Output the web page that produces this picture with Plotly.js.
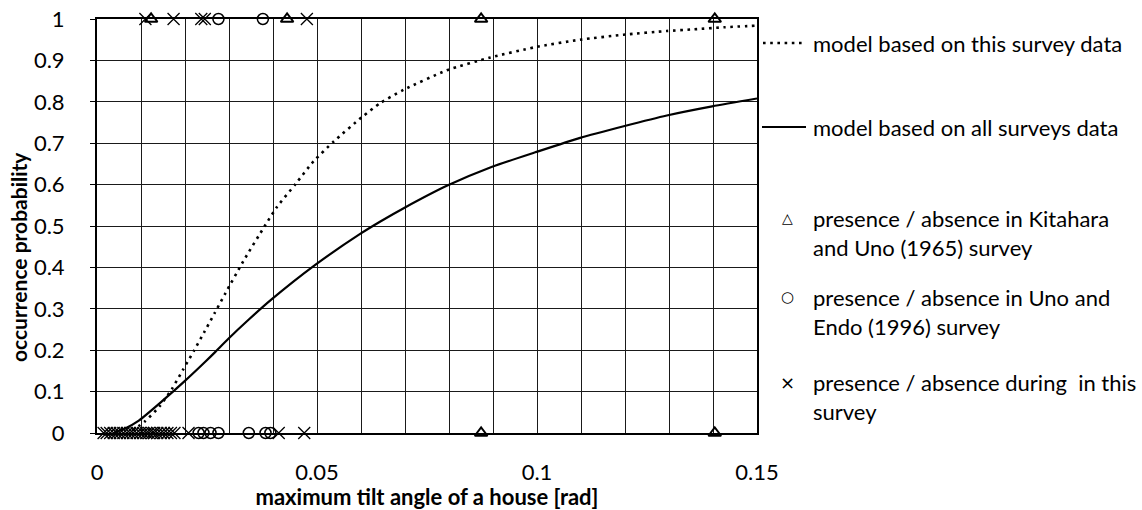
<!DOCTYPE html>
<html>
<head>
<meta charset="utf-8">
<script src="https://cdn.plot.ly/plotly-3.0.1.min.js"></script>
<style>
  html, body { margin: 0; padding: 0; background: #fff; }
  #chart { width: 1142px; height: 510px; }
</style>
</head>
<body>
<div id="chart"></div>
<script>
// Fitted model curves (probability vs. maximum tilt angle)
const modelThisX = [0.008, 0.0108, 0.0142, 0.017, 0.0195, 0.022, 0.0244, 0.0267, 0.0292, 0.0332, 0.0383, 0.0409, 0.0451, 0.0492, 0.0538, 0.0602, 0.0644, 0.0697, 0.0795, 0.0894, 0.0996, 0.1098, 0.1197, 0.1295, 0.1356, 0.1425, 0.15];
const modelThisY = [0.006, 0.027, 0.064, 0.106, 0.152, 0.198, 0.244, 0.289, 0.338, 0.414, 0.503, 0.546, 0.601, 0.656, 0.704, 0.763, 0.797, 0.829, 0.876, 0.907, 0.932, 0.950, 0.962, 0.971, 0.975, 0.980, 0.984];

const modelAllX = [0.004, 0.0064, 0.0095, 0.0148, 0.0198, 0.0246, 0.0269, 0.0298, 0.0345, 0.0396, 0.0496, 0.0598, 0.0644, 0.0697, 0.0795, 0.0898, 0.0996, 0.1098, 0.1197, 0.1295, 0.1398, 0.15];
const modelAllY = [0.001, 0.011, 0.030, 0.077, 0.124, 0.172, 0.196, 0.227, 0.274, 0.322, 0.406, 0.481, 0.511, 0.543, 0.597, 0.643, 0.678, 0.713, 0.741, 0.767, 0.789, 0.808];

// Kitahara and Uno (1965) survey: presence = 1, absence = 0
const kitaharaX = [0.0123, 0.0432, 0.0873, 0.1404, 0.0873, 0.1404];
const kitaharaY = [1, 1, 1, 1, 0, 0];

// Uno and Endo (1996) survey
const unoEndoX = [0.0276, 0.0377, 0.0231, 0.0242, 0.0258, 0.0276, 0.0345, 0.0383, 0.0394];
const unoEndoY = [1, 1, 0, 0, 0, 0, 0, 0, 0];

// This survey
const thisSurveyX = [0.011, 0.0174, 0.0237, 0.0245, 0.0477,
  0.0015, 0.0022, 0.003, 0.0038, 0.0045, 0.0052, 0.006, 0.0068, 0.0075, 0.0082, 0.009, 0.0098,
  0.0105, 0.0112, 0.0118, 0.0125, 0.013, 0.0137, 0.0145, 0.0152, 0.016, 0.0168, 0.0176,
  0.0208, 0.0413, 0.0471];
const thisSurveyY = [1, 1, 1, 1, 1,
  0, 0, 0, 0, 0, 0, 0, 0, 0, 0, 0, 0,
  0, 0, 0, 0, 0, 0, 0, 0, 0, 0, 0,
  0, 0, 0];

// Axis ticks
const yTicks = [0, 0.1, 0.2, 0.3, 0.4, 0.5, 0.6, 0.7, 0.8, 0.9, 1];
const yTickText = ['0', '0.1', '0.2', '0.3', '0.4', '0.5', '0.6', '0.7', '0.8', '0.9', '1'];
const xTicks = [0, 0.05, 0.1, 0.15];
const xTickText = ['0', '0.05', '0.1', '0.15'];

// Legend labels
const legendLabels = [
  'model based on this survey data',
  'model based on all surveys data',
  'presence / absence in Kitahara<br>and Uno (1965) survey',
  'presence / absence in Uno and<br>Endo (1996) survey',
  'presence / absence during  in this<br>survey'
];

const FONT = 'Lato, "Open Sans", sans-serif';
const DOTS = '2.6px,4.6px';

// plot-area geometry in pixels, used to place the hand-built legend
const L = 97, T = 19, W = 660, H = 414;
const px = x => (x - L) / W;
const py = y => (T + H - y) / H;

const traces = [
  {
    x: modelThisX, y: modelThisY, type: 'scatter', mode: 'lines',
    line: { color: '#000', width: 2.6, dash: DOTS, shape: 'spline', smoothing: 0.6 },
    hoverinfo: 'skip'
  },
  {
    x: modelAllX, y: modelAllY, type: 'scatter', mode: 'lines',
    line: { color: '#000', width: 2.2, shape: 'spline', smoothing: 0.6 },
    hoverinfo: 'skip'
  },
  {
    x: thisSurveyX, y: thisSurveyY, type: 'scatter', mode: 'markers', cliponaxis: false,
    marker: { symbol: 'x-thin-open', size: 12, color: '#000', line: { color: '#000', width: 1.3 } }
  },
  {
    x: unoEndoX, y: unoEndoY, type: 'scatter', mode: 'markers', cliponaxis: false,
    marker: { symbol: 'circle-open', size: 11, color: '#000', line: { color: '#000', width: 1.5 } }
  },
  {
    x: kitaharaX, y: kitaharaY, type: 'scatter', mode: 'markers', cliponaxis: false,
    marker: { symbol: 'triangle-up-open', size: 11, color: '#000', line: { color: '#000', width: 2 } }
  }
];

const annotations = [
  // y-axis title
  {
    xref: 'paper', yref: 'paper', x: px(18), y: py(257), text: '<b>occurrence probability</b>',
    textangle: -90, showarrow: false, xanchor: 'center', yanchor: 'middle',
    font: { family: FONT, size: 21, color: '#000' }
  },
  // legend texts
  { x: px(811), y: py(43), text: legendLabels[0] },
  { x: px(811), y: py(127), text: legendLabels[1] },
  { x: px(811), y: py(233), text: legendLabels[2] },
  { x: px(811), y: py(312), text: legendLabels[3] },
  { x: px(811), y: py(397), text: legendLabels[4] },
  // legend marker glyphs
  { x: px(787), y: py(218), text: '△', xanchor: 'center', font: { family: '"DejaVu Sans", sans-serif', size: 14, color: '#000' } },
  { x: px(787), y: py(297), text: '○', xanchor: 'center', font: { family: '"DejaVu Sans", sans-serif', size: 15, color: '#000' } },
  { x: px(787), y: py(382), text: '×', xanchor: 'center', font: { family: '"DejaVu Sans", sans-serif', size: 18, color: '#000' } }
].map((a, i) => i === 0 ? a : Object.assign({
  xref: 'paper', yref: 'paper', showarrow: false, xanchor: 'left', yanchor: 'middle', align: 'left',
  font: { family: FONT, size: 22, color: '#000' }
}, a));

const shapes = [
  // legend line samples
  { type: 'line', xref: 'paper', yref: 'paper', x0: px(763), x1: px(806), y0: py(43), y1: py(43),
    line: { color: '#000', width: 2.6, dash: DOTS } },
  { type: 'line', xref: 'paper', yref: 'paper', x0: px(762), x1: px(806), y0: py(127), y1: py(127),
    line: { color: '#000', width: 2.2 } }
];

const layout = {
  width: 1142, height: 510,
  margin: { l: L, r: 1142 - L - W, t: T, b: 510 - T - H, pad: 0 },
  paper_bgcolor: '#fff', plot_bgcolor: '#fff',
  showlegend: false,
  font: { family: FONT, size: 22, color: '#000' },
  xaxis: {
    range: [0, 0.15], tickmode: 'array', tickvals: xTicks, ticktext: xTickText,
    showline: true, linecolor: '#000', linewidth: 2, mirror: true,
    showgrid: true, gridcolor: '#1a1a1a', gridwidth: 1,
    minor: { dtick: 0.01, showgrid: true, gridcolor: '#1a1a1a', gridwidth: 1 },
    ticks: '', ticklabelstandoff: 19, zeroline: false,
    tickfont: { family: FONT, size: 22, color: '#000' },
    title: { text: '<b>maximum tilt angle of a house [rad]</b>', standoff: 2,
      font: { family: FONT, size: 22, color: '#000' } }
  },
  yaxis: {
    range: [0, 1], tickmode: 'array', tickvals: yTicks, ticktext: yTickText,
    showline: true, linecolor: '#000', linewidth: 2, mirror: true,
    showgrid: true, gridcolor: '#1a1a1a', gridwidth: 1,
    ticks: 'outside', ticklen: 5, tickwidth: 1, tickcolor: '#000',
    ticklabelstandoff: 21, zeroline: false,
    tickfont: { family: FONT, size: 22, color: '#000' }
  },
  annotations: annotations,
  shapes: shapes
};

Plotly.newPlot('chart', traces, layout, { displayModeBar: false, staticPlot: true });
</script>
</body>
</html>
